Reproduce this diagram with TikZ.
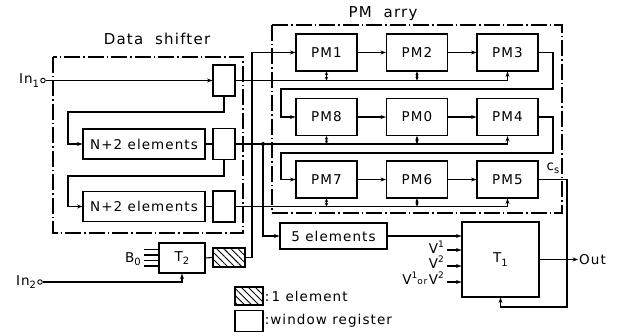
\documentclass[tikz,border=0pt]{standalone}
\usepackage{fontspec}
\setmainfont{DejaVu Sans}[LetterSpace=8.0]
\usetikzlibrary{arrows.meta,patterns.meta}
\newcommand\sbs[1]{\raisebox{-0.45ex}{\fontsize{10}{10}\selectfont #1}}
\newcommand\sps[1]{\raisebox{0.85ex}{\fontsize{9}{9}\selectfont #1}}
\tikzset{
  ln/.style={line width=1.1pt},
  txt/.style={font=\fontsize{13.5}{15}\selectfont, inner sep=1pt},
  bx/.style={draw, line width=1.1pt, inner sep=0pt, font=\fontsize{13.5}{15}\selectfont},
  pmbox/.style={bx, minimum width=61pt, minimum height=37pt},
  wrbox/.style={bx, minimum width=22pt, minimum height=31pt},
  nbox/.style={bx, minimum width=122pt, minimum height=30pt},
  hatchbox/.style={bx, pattern={Lines[angle=-45,distance=5pt,line width=0.9pt]}},
  frame/.style={draw, line width=1.1pt, dash pattern=on 16pt off 3pt on 1.5pt off 3pt},
  arr/.style={ln, -{Stealth[length=5.5pt,width=4pt]}},
  darr/.style={ln, {Stealth[length=3.8pt,width=3.4pt]}-{Stealth[length=3.8pt,width=3.4pt]}},
  circ/.style={circle, draw, line width=0.9pt, inner sep=0pt, minimum size=4.5pt},
  ttl/.style={font=\fontsize{15}{17}\selectfont, inner sep=1pt}
}
\begin{document}
\begin{tikzpicture}[x=1pt,y=-1pt]
\useasboundingbox (0,0) rectangle (629,336);
% frames
\draw[frame] (53,57) rectangle (243,233);
\draw[frame] (272,25) rectangle (562,213);
\node[ttl] (dslbl) at (157,39) {Data\ \ shifter};
\node[ttl] (pmlbl) at (383,14) {PM\ \ arry};
% data shifter
\node[wrbox] (wra) at (224,80.5) {};
\node[nbox] (nba) at (144,144) {N+2 elements};
\node[wrbox] (wrb) at (224,144) {};
\node[nbox] (nbb) at (144,206.5) {N+2 elements};
\node[wrbox] (wrc) at (224,206.5) {};
\node[circ] (inone) at (43,80.5) {};
\node[txt, anchor=east] (inonel) at (inone.west) {In\sbs{1}};
\draw[arr] (inone.east) -- (wra.west);
\draw[arr] (wra.south) |- (68,112) |- (nba.west);
\draw[arr] (wrb.south) |- (68,176) |- (nbb.west);
\draw[ln] (nba.east) -- (wrb.west);
\draw[ln] (nbb.east) -- (wrc.west);
% PM array
\node[pmbox] (pma) at (326.5,52.5) {PM1};
\node[pmbox] (pmb) at (417,52.5) {PM2};
\node[pmbox] (pmc) at (507.5,52.5) {PM3};
\node[pmbox] (pmh) at (326.5,117) {PM8};
\node[pmbox] (pmz) at (417,117) {PM0};
\node[pmbox] (pmd) at (507.5,117) {PM4};
\node[pmbox] (pmg) at (326.5,179.5) {PM7};
\node[pmbox] (pmf) at (417,179.5) {PM6};
\node[pmbox] (pme) at (507.5,179.5) {PM5};
\draw[arr] (pma) -- (pmb);
\draw[arr] (pmb) -- (pmc);
\draw[arr] (pmh) -- (pmz);
\draw[arr] (pmz) -- (pmd);
\draw[arr] (pmg) -- (pmf);
\draw[arr] (pmf) -- (pme);
\draw[arr] (pmc.east) -- (553,52.5) -- (553,89) -- (281,89) |- (pmh.west);
\draw[arr] (pmd.east) -- (553,117) -- (553,153) -- (281,153) |- (pmg.west);
% buses
\draw[arr] (wra.east) -| (pmc.south);
\draw[darr] (pma.south |- wra.east) -- (pma.south);
\draw[darr] (pmb.south |- wra.east) -- (pmb.south);
\draw[arr] (wrb.east) -| (pmd.south);
\draw[darr] (pmh.south |- wrb.east) -- (pmh.south);
\draw[darr] (pmz.south |- wrb.east) -- (pmz.south);
\draw[arr] (wrc.east) -| (pme.south);
\draw[darr] (pmg.south |- wrc.east) -- (pmg.south);
\draw[darr] (pmf.south |- wrc.east) -- (pmf.south);
% 5 elements and T1
\node[bx, minimum width=107pt, minimum height=26pt] (five) at (333.5,236) {5 elements};
\coordinate (jn) at (263,144);
\fill (jn) circle (2pt);
\draw[arr] (jn) |- (five.west);
\node[bx, minimum width=77pt, minimum height=75pt] (tone) at (500.5,259.5) {T\sbs{1}};
\draw[arr] (five.east) -- (five.east -| tone.west);
\coordinate (va) at (447,250);
\coordinate (vb) at (447,266);
\coordinate (vc) at (447,282);
\draw[arr] (va) -- (va -| tone.west);
\draw[arr] (vb) -- (vb -| tone.west);
\draw[arr] (vc) -- (vc -| tone.west);
\node[txt, anchor=east] (val) at (445,247) {V\sps{1}};
\node[txt, anchor=east] (vbl) at (445,262) {V\sps{2}};
\node[txt, anchor=east] (vcl) at (445,278) {V\sps{1}{\fontsize{9}{9}\selectfont or\,}V\sps{2}};
\node[txt, anchor=west] (outl) at (578,259.5) {Out};
\draw[arr] (tone.east) -- (outl.west);
\node[txt] (csl) at (553,168) {c\sbs{s}};
\draw[arr] (pme.east) -- (567,179.5) -- (567,307) -| (tone.south);
% T2 and 1 element
\node[bx, minimum width=46pt, minimum height=30pt] (ttwo) at (182,258) {T\sbs{2}};
\node[hatchbox, minimum width=32pt, minimum height=19pt] (hatch) at (229,257.5) {};
\draw[ln] (ttwo.east) -- (hatch.west);
\draw[arr] (hatch.east) -- (252,257.5) |- (pma.west);
\foreach \dy in {8.5,3,-2.5,-8} \draw[ln] ([yshift=\dy pt]ttwo.west) -- ++(-14,0);
\node[txt] (bzl) at (133,259) {B\sbs{0}};
\node[circ] (intwo) at (40,282) {};
\node[txt, anchor=east] (intwol) at (intwo.west) {In\sbs{2}};
\draw[arr] (intwo.east) -| (ttwo.south);
% legend
\node[hatchbox, minimum width=28pt, minimum height=18pt] (lga) at (249,296) {};
\node[txt, anchor=west] (lgal) at (lga.east) {:\,1 element};
\node[bx, minimum width=28pt, minimum height=21pt] (lgb) at (249,321) {};
\node[txt, anchor=west] (lgbl) at (lgb.east) {:window register};
\end{tikzpicture}
\end{document}
